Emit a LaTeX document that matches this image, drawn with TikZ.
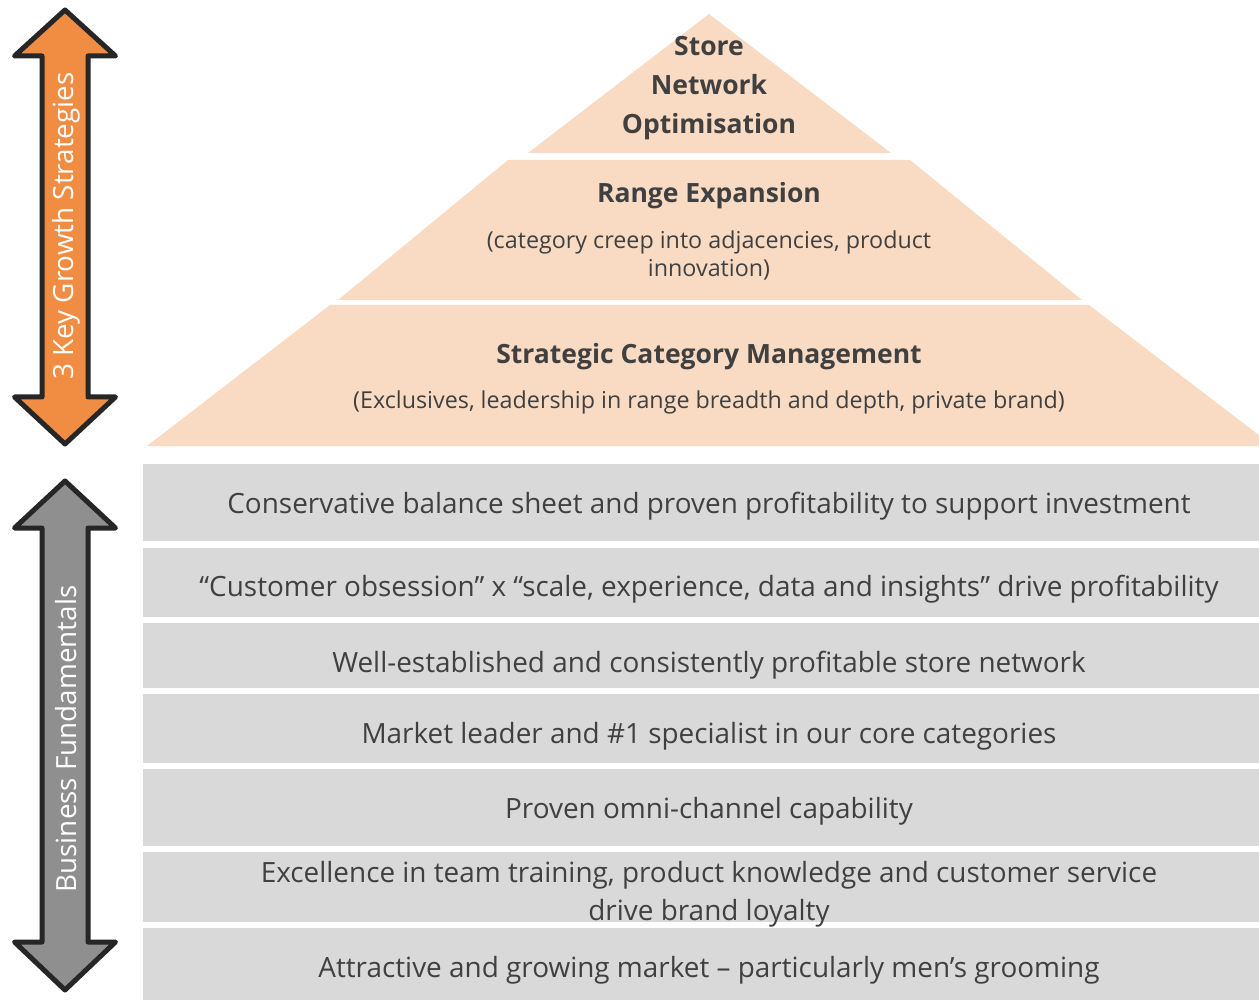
\documentclass[tikz,border=0pt]{standalone}
\usepackage{fontspec}
\setmainfont{Open Sans}
\definecolor{peach}{HTML}{F9DBC4}
\definecolor{bandgray}{HTML}{D9D9D9}
\definecolor{txt}{HTML}{404040}
\definecolor{orangearrow}{HTML}{F08D43}
\definecolor{grayarrow}{HTML}{8F8F8F}
\definecolor{outline}{HTML}{262626}
\tikzset{
  band/.style={fill=bandgray, draw=none, inner sep=0pt, minimum width=1132pt},
  bandtext/.style={text=txt, inner sep=0pt, align=center, font=\fontsize{27.9}{38}\selectfont},
  tier/.style={fill=peach, draw=none},
  headtext/.style={text=txt, inner sep=0pt, align=center, font=\bfseries\fontsize{26.5}{39}\selectfont},
  subtext/.style={text=txt, inner sep=0pt, align=center, font=\fontsize{23.3}{28}\selectfont},
  bigarrow/.style={draw=outline, line width=5pt, line join=round},
  vtext/.style={text=white, inner sep=0pt, rotate=90, font=\fontsize{27.8}{34}\selectfont}
}
\begin{document}
\begin{tikzpicture}[x=1pt,y=-1pt]
\useasboundingbox (0,0) rectangle (1259,1000);
\clip (0,0) rectangle (1259,1000);
% pyramid tiers
\path[tier] (709,14) -- (891,153) -- (528,153) -- cycle;
\path[tier] (508,160) -- (910,160) -- (1082,300) -- (338,300) -- cycle;
\path[tier] (330,305) -- (1089,305) -- (1273,446) -- (147,446) -- cycle;
\node[headtext] (t1) at (709,88) {Store\\Network\\Optimisation};
\node[headtext] (t2) at (709,196) {Range Expansion};
\node[subtext] (t2s) at (709,255.5) {(category creep into adjacencies, product\\innovation)};
\node[headtext] (t3) at (709,357) {Strategic Category Management};
\node[subtext] (t3s) at (709,402.5) {(Exclusives, leadership in range breadth and depth, private brand)};
% bands
\node[band, minimum height=77pt] (b1) at (709,502.5) {};
\node[band, minimum height=69pt] (b2) at (709,582.5) {};
\node[band, minimum height=65pt] (b3) at (709,655.5) {};
\node[band, minimum height=69pt] (b4) at (709,728.5) {};
\node[band, minimum height=77pt] (b5) at (709,807.5) {};
\node[band, minimum height=70pt] (b6) at (709,887) {};
\node[band, minimum height=80pt] (b7) at (709,968) {};
\node[bandtext] (l1) at (709,506.5) {Conservative balance sheet and proven profitability to support investment};
\node[bandtext] (l2) at (709,589.5) {“Customer obsession” x “scale, experience, data and insights” drive profitability};
\node[bandtext] (l3) at (709,665.5) {Well-established and consistently profitable store network};
\node[bandtext] (l4) at (709,736.5) {Market leader and \#1 specialist in our core categories};
\node[bandtext] (l5) at (709,811.5) {Proven omni-channel capability};
\node[bandtext] (l6) at (709,894) {Excellence in team training, product knowledge and customer service\\drive brand loyalty};
\node[bandtext] (l7) at (709,970.5) {Attractive and growing market – particularly men’s grooming};
% arrows
\path[bigarrow, fill=orangearrow] (65,10) -- (115.5,56) -- (88,56) -- (88,397) -- (115.5,397) -- (65,444) -- (14.5,397) -- (42,397) -- (42,56) -- (14.5,56) -- cycle;
\path[bigarrow, fill=grayarrow] (65,481) -- (115.5,528) -- (88,528) -- (88,942) -- (115.5,942) -- (65,990) -- (14.5,942) -- (42,942) -- (42,528) -- (14.5,528) -- cycle;
\node[vtext] (v1) at (66,226) {3 Key Growth Strategies};
\node[vtext] (v2) at (66,739) {Business Fundamentals};
\end{tikzpicture}
\end{document}
